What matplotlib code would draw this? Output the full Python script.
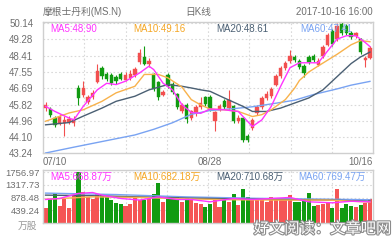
import matplotlib
matplotlib.use("Agg")
import matplotlib.pyplot as plt
import matplotlib.patheffects as pe
import numpy as np

plt.rcParams['font.family'] = ['Liberation Sans', 'Noto Sans CJK SC', 'DejaVu Sans']

# ---------------- data ----------------
title = "摩根士丹利(MS.N)"
period = "日K线"
stamp = "2017-10-16 16:00"
watermark = "好文阅读：文章吧网"

date_tick_idx = [0, 35, 69]
date_tick_labels = ["07/10", "08/28", "10/16"]

opens = [45.62, 45.60, 45.10, 44.80, 44.85, 44.88, 44.85, 46.70, 46.30, 45.95,
         46.20, 47.00, 47.75, 47.45, 47.40, 47.30, 47.45, 47.15, 47.25, 47.40,
         48.10, 48.35, 47.95, 47.45, 47.00, 46.30, 47.40, 46.90, 46.40, 45.45,
         45.80, 45.10, 45.35, 45.70, 46.20, 46.20, 44.95, 45.55, 46.00, 45.65,
         45.75, 44.95, 45.10, 44.15, 44.55, 45.35, 45.70, 46.15, 46.25, 46.85,
         47.35, 47.75, 48.15, 48.35, 48.15, 47.85, 48.35, 48.40, 47.90, 48.40,
         49.00, 49.75, 49.30, 50.10, 50.00, 49.65, 49.45, 49.30, 48.20, 48.30]
closes = [45.80, 45.25, 44.72, 45.15, 45.00, 45.05, 45.05, 46.15, 46.70, 46.20,
          46.45, 47.60, 47.35, 47.20, 46.95, 47.05, 47.20, 47.40, 47.45, 47.70,
          48.55, 47.95, 48.15, 46.65, 46.20, 46.50, 46.80, 46.50, 45.70, 45.80,
          45.05, 45.45, 45.70, 45.90, 45.85, 45.55, 45.40, 45.75, 45.70, 46.05,
          44.95, 45.10, 43.95, 43.95, 45.00, 45.70, 46.15, 46.40, 46.65, 47.35,
          47.75, 48.05, 48.40, 48.20, 47.80, 47.50, 48.10, 48.20, 48.15, 48.90,
          49.50, 49.05, 50.00, 49.60, 49.60, 49.40, 49.60, 48.60, 48.30, 48.85]
highs = [45.95, 45.70, 45.20, 45.30, 45.20, 45.20, 45.20, 46.85, 47.05, 46.35,
         46.60, 47.95, 47.85, 47.55, 47.50, 47.40, 47.55, 47.55, 47.65, 47.80,
         48.75, 48.95, 48.30, 47.50, 47.05, 46.60, 47.50, 47.00, 46.45, 45.90,
         45.90, 45.55, 45.80, 46.20, 46.25, 46.30, 45.50, 45.85, 46.10, 46.60,
         45.80, 45.25, 45.15, 44.25, 45.10, 45.80, 46.25, 46.55, 46.75, 47.45,
         47.85, 48.15, 48.70, 48.45, 48.25, 47.95, 48.45, 48.50, 48.30, 49.00,
         49.60, 49.85, 50.15, 50.20, 50.10, 49.75, 49.70, 49.35, 48.40, 48.95]
lows = [45.50, 45.15, 44.60, 44.75, 44.12, 44.78, 44.70, 45.80, 46.20, 45.85,
        46.10, 46.95, 47.20, 47.05, 46.85, 46.90, 47.10, 47.05, 47.15, 47.30,
        48.00, 47.90, 47.80, 46.55, 46.05, 46.25, 46.70, 46.40, 45.60, 45.35,
        44.85, 45.00, 45.20, 45.60, 45.75, 45.45, 44.40, 45.45, 45.60, 45.55,
        44.85, 44.85, 43.85, 43.85, 44.45, 45.25, 45.60, 46.05, 46.15, 46.80,
        47.25, 47.65, 48.05, 48.10, 47.70, 47.30, 48.00, 48.10, 47.85, 48.30,
        48.95, 48.95, 49.20, 49.50, 49.50, 49.30, 49.35, 48.50, 47.80, 48.25]

volumes = [530, 810, 1020, 590, 810, 510, 960, 1757, 1075, 900,
           810, 985, 960, 900, 790, 675, 640, 580, 650, 880,
           790, 790, 820, 985, 1390, 730, 820, 880, 925, 730,
           860, 800, 695, 650, 560, 640, 880, 560, 790, 730,
           1000, 615, 1160, 880, 790, 790, 790, 730, 900, 820,
           790, 790, 960, 730, 730, 820, 1040, 580, 615, 650,
           690, 510, 1160, 510, 640, 580, 560, 615, 690, 820]

# moving-average lines (candle index, value)
ma5_idx = [0, 2, 5, 6, 8, 11, 13, 15, 17, 20, 22, 23, 25, 27, 29, 31, 33, 35, 38, 41,
           42, 44, 46, 48, 50, 52, 54, 56, 58, 60, 62, 64, 66, 68, 69]
ma5_val = [45.72, 45.45, 45.10, 45.00, 45.72, 46.60, 46.95, 46.88, 47.06, 47.50, 47.86,
           47.68, 46.95, 46.60, 45.81, 45.40, 45.35, 45.58, 45.54, 45.45, 45.18, 44.65,
           45.00, 45.72, 46.79, 47.78, 48.04, 48.04, 48.04, 48.67, 49.30, 49.48, 49.48,
           49.12, 48.90]
ma10_idx = [0, 5, 8, 12, 15, 19, 21, 24, 26, 29, 31, 33, 35, 38, 41, 44, 46, 48, 51,
            53, 54, 56, 58, 62, 65, 67, 69]
ma10_val = [44.93, 45.37, 45.54, 45.99, 46.44, 46.79, 47.42, 47.42, 47.24, 46.75, 46.08,
            45.80, 45.58, 45.54, 45.45, 45.18, 45.28, 45.54, 46.08, 46.70, 47.10, 47.55,
            47.87, 48.49, 49.00, 49.22, 49.16]
ma20_idx = [0, 5, 8, 12, 15, 19, 22, 26, 29, 31, 33, 35, 38, 42, 44, 47, 50, 53, 56,
            59, 62, 65, 67, 69]
ma20_val = [44.74, 44.86, 45.20, 45.63, 45.99, 46.26, 46.60, 46.88, 46.79, 46.70, 46.60,
            46.52, 46.17, 45.72, 45.45, 45.45, 45.63, 45.90, 46.17, 46.60, 47.30, 48.00,
            48.35, 48.61]
ma60_idx = [0, 6, 12, 19, 23, 27, 31, 35, 40, 44, 48, 53, 57, 62, 65, 69]
ma60_val = [43.24, 43.55, 43.85, 44.20, 44.50, 44.85, 45.30, 45.50, 45.60, 45.70, 45.85,
            46.05, 46.35, 46.65, 46.85, 47.05]

vma5_idx = [0, 3, 7, 10, 12, 16, 20, 24, 28, 31, 35, 40, 44, 48, 52, 56, 61, 65, 69]
vma5_val = [810, 845, 1020, 1050, 960, 845, 790, 900, 810, 810, 730, 845, 810, 845,
            880, 730, 695, 750, 730]
vma10_idx = [0, 10, 20, 30, 40, 50, 60, 69]
vma10_val = [820, 900, 880, 830, 800, 790, 790, 720]
vma20_idx = [0, 10, 20, 30, 40, 50, 60, 69]
vma20_val = [960, 940, 900, 860, 830, 810, 790, 750]
vma60_idx = [0, 15, 30, 45, 60, 69]
vma60_val = [1030, 980, 900, 850, 820, 800]

price_ticks = [43.24, 44.10, 44.96, 45.82, 46.69, 47.55, 48.41, 49.28, 50.14]
vol_ticks = [439.24, 878.48, 1317.73, 1756.97]

ma_labels = ["MA5:48.90", "MA10:49.16", "MA20:48.61", "MA60:47.41"]
vma_labels = ["MA5:668.87万", "MA10:682.18万", "MA20:710.68万", "MA60:769.47万"]

# ---------------- style ----------------
RED = "#f24f4f"
GREEN = "#119b11"
C5, C10, C20, C60 = "#ff33ff", "#f8b24c", "#4a5f73", "#79a3f2"
GRAY = "#6f6f6f"
GRID = "#d9d9d9"
BORDER = "#cfcfcf"

W, H = 392, 240
fig = plt.figure(figsize=(W / 100, H / 100), dpi=100)
fig.patch.set_facecolor("white")

ax1 = fig.add_axes([43 / W, 1 - 153 / H, 330 / W, 131 / H])
ax2 = fig.add_axes([43 / W, 1 - 223 / H, 330 / W, 53 / H])

n = len(closes)
x = np.arange(n)
o = np.array(opens); c = np.array(closes); hi = np.array(highs); lo = np.array(lows)
up = c >= o
cols = np.where(up, RED, GREEN)
xl = (-0.55, n - 0.35)

for ax in (ax1, ax2):
    ax.set_xlim(*xl)
    for s in ax.spines.values():
        s.set_color(BORDER)
        s.set_linewidth(1.0)
    ax.set_xticks([])
    ax.tick_params(axis="y", length=0, labelcolor=GRAY)
    for k in range(1, 8):
        ax.axvline(xl[0] + (xl[1] - xl[0]) * k / 8, color=GRID, lw=0.8,
                   ls=(0, (1.5, 2)), zorder=0)
ax1.tick_params(axis="y", pad=7, labelsize=7)
ax2.tick_params(axis="y", pad=2.5, labelsize=6.8)

# price panel
ax1.set_ylim(43.24, 50.21)
ax1.set_yticks(price_ticks)
ax1.set_yticklabels([f"{t:.2f}" for t in price_ticks])
for t in price_ticks[1:]:
    ax1.axhline(t, color=GRID, lw=0.8, ls=(0, (1.5, 2)), zorder=0)

ax1.vlines(x, lo, hi, colors=cols, lw=0.8, zorder=2)
body_h = np.maximum(np.abs(c - o), 0.03)
ax1.bar(x, body_h, bottom=np.minimum(o, c), width=0.72, color=cols,
        edgecolor=cols, linewidth=0.3, zorder=3)

ax1.plot(ma60_idx, ma60_val, color=C60, lw=1.0, zorder=4)
ax1.plot(ma20_idx, ma20_val, color=C20, lw=1.0, zorder=4)
ax1.plot(ma10_idx, ma10_val, color=C10, lw=1.0, zorder=4)
ax1.plot(ma5_idx, ma5_val, color=C5, lw=1.0, zorder=4)

for lab, col, px in zip(ma_labels, [C5, "#f5a623", C20, C60], [50, 133, 216, 300]):
    ax1.text((px - 43) / 330, 1 - 6.5 / 131, lab, transform=ax1.transAxes,
             color=col, fontsize=7, va="center", ha="left", zorder=5)

for idx, lab in zip(date_tick_idx, date_tick_labels):
    ha = "left" if idx == date_tick_idx[0] else ("right" if idx == date_tick_idx[-1] else "center")
    xpos = xl[0] if ha == "left" else (xl[1] if ha == "right" else idx)
    ax1.annotate(lab, xy=(xpos, 0), xycoords=("data", "axes fraction"),
                 xytext=(0, -3), textcoords="offset points", ha=ha, va="top",
                 fontsize=7, color=GRAY, annotation_clip=False)

# volume panel
ax2.set_ylim(0, 1826)
ax2.set_yticks(vol_ticks)
ax2.set_yticklabels([f"{t:.2f}" for t in vol_ticks])
for t in vol_ticks:
    ax2.axhline(t, color=GRID, lw=0.8, ls=(0, (1.5, 2)), zorder=0)
vcols = np.where(up, "#f55555", GREEN)
ax2.bar(x, volumes, width=0.86, color=vcols, linewidth=0, zorder=2)
ax2.plot(vma60_idx, vma60_val, color=C60, lw=1.0, zorder=4)
ax2.plot(vma20_idx, vma20_val, color=C20, lw=1.0, zorder=4)
ax2.plot(vma10_idx, vma10_val, color=C10, lw=1.0, zorder=4)
ax2.plot(vma5_idx, vma5_val, color=C5, lw=1.0, zorder=4)
for lab, col, px in zip(vma_labels, [C5, "#f5a623", C20, C60], [50, 133, 216, 298]):
    ax2.text((px - 43) / 330, 1 - 6.5 / 53, lab, transform=ax2.transAxes,
             color=col, fontsize=7, va="center", ha="left", zorder=5)
ax2.text(-6 / 330, -3 / 53, "万股", transform=ax2.transAxes, ha="right", va="center",
         fontsize=7, color="#9a9a9a")

# header
fig.text(43 / W, 1 - 12 / H, title, fontsize=7, color=GRAY, va="center", ha="left")
fig.text(185 / W, 1 - 12 / H, period, fontsize=7, color=GRAY, va="center", ha="left")
fig.text(373 / W, 1 - 12 / H, stamp, fontsize=7, color=GRAY, va="center", ha="right")

# watermark
fig.text(391 / W, 1 - 229 / H, watermark, fontsize=11, color="#ffffff", va="center",
         ha="right", path_effects=[pe.withStroke(linewidth=1.6, foreground="#8c8c8c")],
         zorder=10)

fig.savefig("out.png", dpi=100)
